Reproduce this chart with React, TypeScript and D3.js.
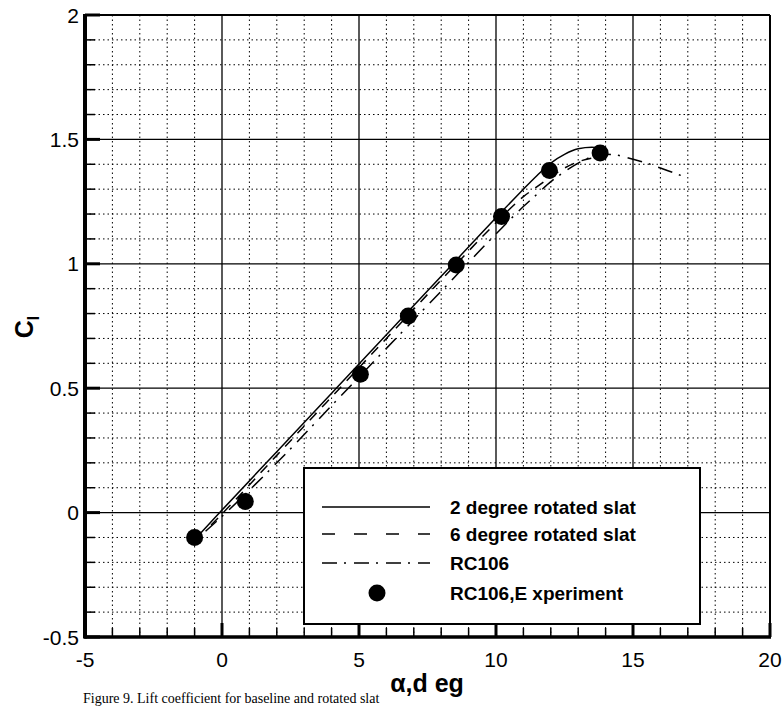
import React from 'react';
import * as d3 from 'd3';

// values (alpha in deg, Cl)
const slat2: [number, number][] = [
  [-0.8, -0.085], [0, 0.01], [2, 0.245], [4, 0.48], [6, 0.715], [8, 0.95],
  [10, 1.185], [11, 1.3], [11.5, 1.355], [12, 1.405], [12.5, 1.44], [13, 1.462],
  [13.5, 1.468], [14, 1.462],
];
const slat6: [number, number][] = [
  [-0.4, -0.05], [0, -0.005], [2, 0.23], [4, 0.465], [6, 0.7], [8, 0.935],
  [10, 1.165], [10.5, 1.22], [11, 1.27], [11.5, 1.31], [12, 1.35], [12.5, 1.385],
  [13, 1.41], [13.5, 1.425],
];
const rc106: [number, number][] = [
  [-0.6, -0.075], [0, -0.015], [2, 0.2], [4, 0.43], [6, 0.66], [8, 0.89],
  [10, 1.12], [11, 1.23], [11.5, 1.28], [12, 1.33], [12.5, 1.37], [13, 1.405],
  [13.5, 1.43], [14, 1.44], [14.5, 1.435], [15, 1.42], [15.5, 1.405], [16, 1.385],
  [16.5, 1.365], [17, 1.345],
];
const experiment: [number, number][] = [
  [-1, -0.1], [0.85, 0.045], [5.05, 0.556], [6.8, 0.79], [8.55, 0.995],
  [10.2, 1.19], [11.95, 1.375], [13.8, 1.445],
];

const xMajor = [-5, 0, 5, 10, 15, 20];
const yMajor = [-0.5, 0, 0.5, 1, 1.5, 2];
const yLabels = ['-0.5', '0', '0.5', '1', '1.5', '2'];

const legendItems = [
  { label: '2 degree rotated slat', dash: 'none' },
  { label: '6 degree rotated slat', dash: '13,19' },
  { label: 'RC106', dash: '15,7,2,8' },
  { label: 'RC106,E xperiment', dash: 'dot' },
];

export default function App() {
  const x = d3.scaleLinear().domain([-5, 20]).range([85, 770]);
  const y = d3.scaleLinear().domain([-0.5, 2]).range([637, 15]);
  const line = d3.line<[number, number]>()
    .x((d) => x(d[0]))
    .y((d) => y(d[1]))
    .curve(d3.curveMonotoneX);

  const xMinor = d3.range(-5, 20.01, 1);
  const yMinor = d3.range(-0.5, 2.001, 0.1);
  const font = 'Liberation Sans, Arial, sans-serif';
  const legendRows = [507, 534, 563, 593];

  return (
    <svg width={784} height={706} style={{ position: 'absolute', left: 0, top: 0, background: '#fff' }}>
      <rect width={784} height={706} fill="#fff" />
      {/* minor dotted grid */}
      {xMinor.filter((v) => v % 5 !== 0).map((v) => (
        <line key={'gx' + v} x1={x(v)} x2={x(v)} y1={y(2)} y2={y(-0.5)}
          stroke="#000" strokeWidth={1} strokeDasharray="1.5,3" />
      ))}
      {yMinor.filter((v) => Math.abs(Math.round(v * 10) % 5) !== 0).map((v) => (
        <line key={'gy' + v.toFixed(1)} x1={x(-5)} x2={x(20)} y1={y(v)} y2={y(v)}
          stroke="#000" strokeWidth={1} strokeDasharray="1.5,3" />
      ))}
      {/* major grid */}
      {xMajor.map((v) => (
        <line key={'mx' + v} x1={x(v)} x2={x(v)} y1={y(2)} y2={y(-0.5)} stroke="#000" strokeWidth={1.3} />
      ))}
      {yMajor.map((v) => (
        <line key={'my' + v} x1={x(-5)} x2={x(20)} y1={y(v)} y2={y(v)} stroke="#000" strokeWidth={1.3} />
      ))}
      {/* ticks */}
      {yMinor.map((v) => {
        const major = Math.abs(Math.round(v * 10) % 5) === 0;
        return (
          <line key={'ty' + v.toFixed(1)} x1={x(-5)} x2={x(-5) + (major ? 15 : 10)} y1={y(v)} y2={y(v)}
            stroke="#000" strokeWidth={major ? 3 : 1.5} />
        );
      })}
      {xMinor.map((v) => {
        const major = v % 5 === 0;
        return (
          <line key={'tx' + v} x1={x(v)} x2={x(v)} y1={y(-0.5)} y2={y(-0.5) - (major ? 14 : 9)}
            stroke="#000" strokeWidth={major ? 3 : 1.5} />
        );
      })}
      {/* curves */}
      <path d={line(slat2) || ''} fill="none" stroke="#000" strokeWidth={1.5} />
      <path d={line(slat6) || ''} fill="none" stroke="#000" strokeWidth={1.5} strokeDasharray="10,8" />
      <path d={line(rc106) || ''} fill="none" stroke="#000" strokeWidth={1.5} strokeDasharray="15,7,2,8" />
      {experiment.map((d, i) => (
        <circle key={'e' + i} cx={x(d[0])} cy={y(d[1])} r={8.5} fill="#000" />
      ))}
      {/* frame */}
      <line x1={x(-5)} x2={x(20)} y1={y(2)} y2={y(2)} stroke="#000" strokeWidth={2} />
      <line x1={x(20)} x2={x(20)} y1={y(2)} y2={y(-0.5)} stroke="#000" strokeWidth={2} />
      <line x1={x(-5) - 1} x2={x(20) + 1} y1={y(-0.5)} y2={y(-0.5)} stroke="#000" strokeWidth={3.5} />
      <line x1={x(-5)} x2={x(-5)} y1={y(2) - 1} y2={y(-0.5) + 1.5} stroke="#000" strokeWidth={4} />
      {/* legend */}
      <rect x={304} y={468} width={396} height={156} fill="#fff" stroke="#000" strokeWidth={2} />
      {legendItems.map((it, i) => (
        <g key={it.label}>
          {it.dash === 'dot' ? (
            <circle cx={377} cy={legendRows[i]} r={8.5} fill="#000" />
          ) : (
            <line x1={322} x2={430} y1={legendRows[i]} y2={legendRows[i]} stroke="#000" strokeWidth={1.5}
              strokeDasharray={it.dash === 'none' ? undefined : it.dash} />
          )}
          <text x={450} y={legendRows[i] + 7} fontFamily={font} fontWeight="bold" fontSize={19}>{it.label}</text>
        </g>
      ))}
      {/* tick labels */}
      {yMajor.map((v, i) => (
        <text key={'yl' + v} x={79} y={y(v) + 7.5} textAnchor="end" fontFamily={font} fontSize={21}>{yLabels[i]}</text>
      ))}
      {xMajor.map((v) => (
        <text key={'xl' + v} x={x(v)} y={667} textAnchor="middle" fontFamily={font} fontSize={21}>{v}</text>
      ))}
      {/* axis titles */}
      <text x={427} y={692} textAnchor="middle" fontFamily={font} fontWeight="bold" fontSize={25}>α,d eg</text>
      <text transform="translate(33,327) rotate(-90)" textAnchor="middle" fontFamily={font} fontWeight="bold" fontSize={25}>
        C<tspan fontSize={16} dy={6}>l</tspan>
      </text>
      <text x={83} y={703} fontFamily="Liberation Serif, Times New Roman, serif" fontSize={14}>
        Figure 9. Lift coefficient for baseline and rotated slat
      </text>
    </svg>
  );
}
